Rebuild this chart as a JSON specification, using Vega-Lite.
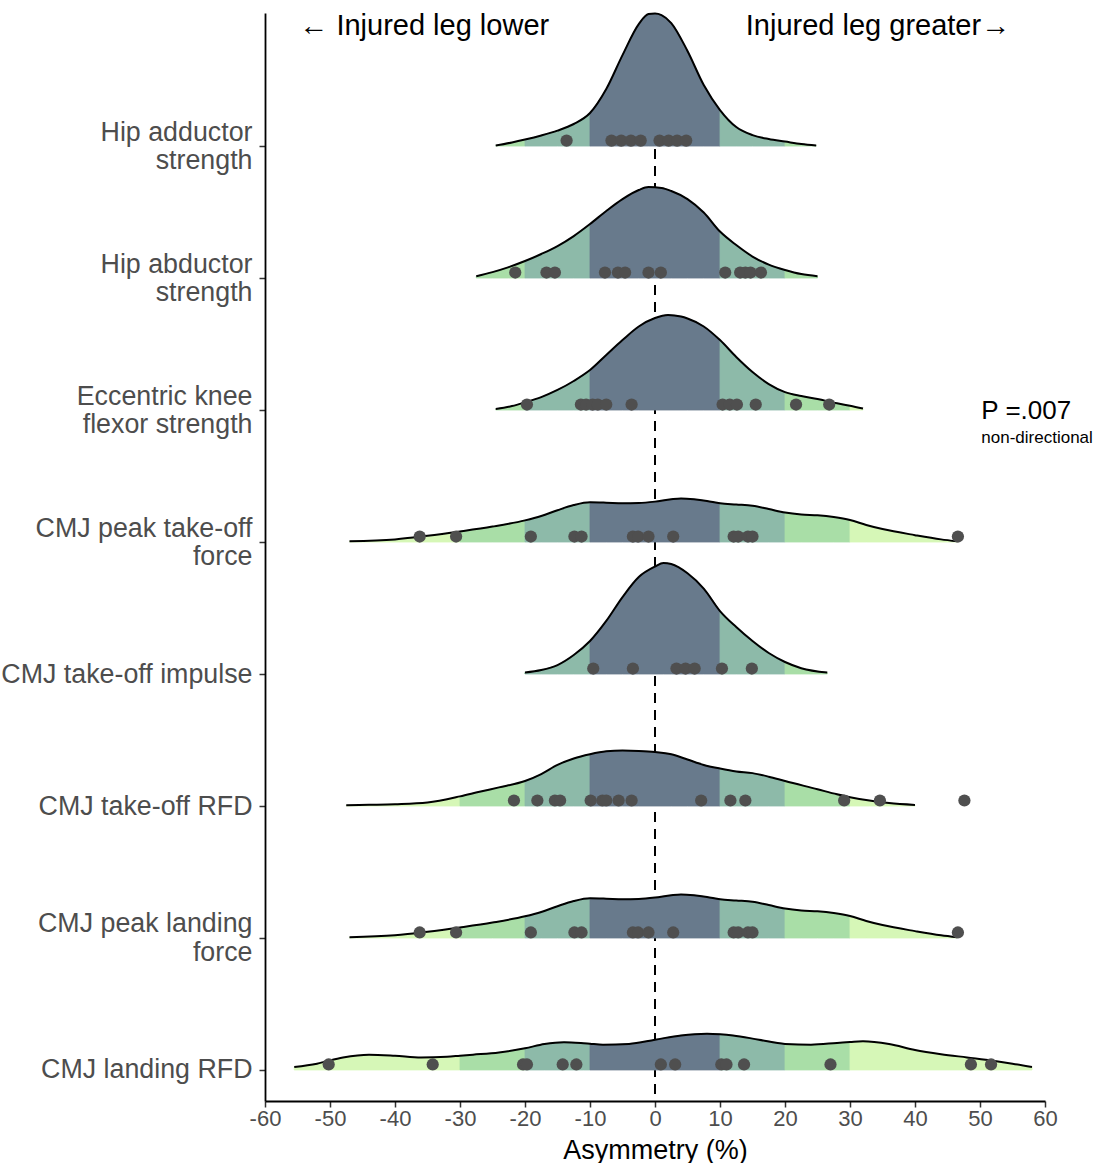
{
  "$schema": "https://vega.github.io/schema/vega-lite/v6.json",
  "width": 780,
  "height": 1088,
  "autosize": {"type": "pad"},
  "padding": {"left": 0, "top": 9, "right": 0, "bottom": 0},
  "background": "white",
  "config": {"view": {"stroke": null}, "font": "Liberation Sans"},
  "datasets": {
    "ridges": [
      {"ridge": "HA", "level": 8}, {"ridge": "HB", "level": 7}, {"ridge": "EK", "level": 6}, {"ridge": "PTF", "level": 5},
      {"ridge": "TOI", "level": 4}, {"ridge": "TRFD", "level": 3}, {"ridge": "PLF", "level": 2}, {"ridge": "LRFD", "level": 1}
    ],
    "curves": [
      {"ridge": "HA", "x": -24.5, "top": 8.004}, {"ridge": "HA", "x": -22, "top": 8.027}, {"ridge": "HA", "x": -20, "top": 8.049},
      {"ridge": "HA", "x": -17.5, "top": 8.080}, {"ridge": "HA", "x": -15, "top": 8.117}, {"ridge": "HA", "x": -12.5, "top": 8.167},
      {"ridge": "HA", "x": -10, "top": 8.250}, {"ridge": "HA", "x": -7.5, "top": 8.432}, {"ridge": "HA", "x": -5, "top": 8.689},
      {"ridge": "HA", "x": -2.5, "top": 8.924}, {"ridge": "HA", "x": -1, "top": 9.000}, {"ridge": "HA", "x": 0, "top": 9.004},
      {"ridge": "HA", "x": 1, "top": 8.992}, {"ridge": "HA", "x": 2.5, "top": 8.932}, {"ridge": "HA", "x": 5, "top": 8.720},
      {"ridge": "HA", "x": 7.5, "top": 8.462}, {"ridge": "HA", "x": 10, "top": 8.273}, {"ridge": "HA", "x": 12.5, "top": 8.144},
      {"ridge": "HA", "x": 15, "top": 8.083}, {"ridge": "HA", "x": 17.5, "top": 8.053}, {"ridge": "HA", "x": 20, "top": 8.034},
      {"ridge": "HA", "x": 22.5, "top": 8.015}, {"ridge": "HA", "x": 24.8, "top": 8.004},

      {"ridge": "HB", "x": -27.5, "top": 7.014}, {"ridge": "HB", "x": -25, "top": 7.045}, {"ridge": "HB", "x": -22.5, "top": 7.083},
      {"ridge": "HB", "x": -20, "top": 7.129}, {"ridge": "HB", "x": -17.5, "top": 7.182}, {"ridge": "HB", "x": -15, "top": 7.242},
      {"ridge": "HB", "x": -12.5, "top": 7.318}, {"ridge": "HB", "x": -10, "top": 7.409}, {"ridge": "HB", "x": -7.5, "top": 7.508},
      {"ridge": "HB", "x": -5, "top": 7.598}, {"ridge": "HB", "x": -2.5, "top": 7.667}, {"ridge": "HB", "x": -1, "top": 7.689},
      {"ridge": "HB", "x": 1, "top": 7.682}, {"ridge": "HB", "x": 2.5, "top": 7.659}, {"ridge": "HB", "x": 5, "top": 7.598},
      {"ridge": "HB", "x": 7.5, "top": 7.496}, {"ridge": "HB", "x": 10, "top": 7.352}, {"ridge": "HB", "x": 12.5, "top": 7.250},
      {"ridge": "HB", "x": 15, "top": 7.163}, {"ridge": "HB", "x": 17.5, "top": 7.102}, {"ridge": "HB", "x": 20, "top": 7.061},
      {"ridge": "HB", "x": 22.5, "top": 7.030}, {"ridge": "HB", "x": 25, "top": 7.014},

      {"ridge": "EK", "x": -24.5, "top": 6.008}, {"ridge": "EK", "x": -22, "top": 6.030}, {"ridge": "EK", "x": -20, "top": 6.058},
      {"ridge": "EK", "x": -17.5, "top": 6.098}, {"ridge": "EK", "x": -15, "top": 6.152}, {"ridge": "EK", "x": -12.5, "top": 6.220},
      {"ridge": "EK", "x": -10, "top": 6.303}, {"ridge": "EK", "x": -7.5, "top": 6.417}, {"ridge": "EK", "x": -5, "top": 6.530},
      {"ridge": "EK", "x": -2.5, "top": 6.633}, {"ridge": "EK", "x": 0, "top": 6.697}, {"ridge": "EK", "x": 2, "top": 6.720},
      {"ridge": "EK", "x": 4, "top": 6.708}, {"ridge": "EK", "x": 5, "top": 6.693}, {"ridge": "EK", "x": 7.5, "top": 6.633},
      {"ridge": "EK", "x": 10, "top": 6.530}, {"ridge": "EK", "x": 12.5, "top": 6.402}, {"ridge": "EK", "x": 15, "top": 6.288},
      {"ridge": "EK", "x": 17.5, "top": 6.197}, {"ridge": "EK", "x": 20, "top": 6.136}, {"ridge": "EK", "x": 22.5, "top": 6.106},
      {"ridge": "EK", "x": 25, "top": 6.083}, {"ridge": "EK", "x": 28, "top": 6.051}, {"ridge": "EK", "x": 30, "top": 6.033},
      {"ridge": "EK", "x": 32, "top": 6.011},

      {"ridge": "PTF", "x": -47, "top": 5.005}, {"ridge": "PTF", "x": -40, "top": 5.020}, {"ridge": "PTF", "x": -35, "top": 5.047},
      {"ridge": "PTF", "x": -30, "top": 5.080}, {"ridge": "PTF", "x": -25, "top": 5.117}, {"ridge": "PTF", "x": -20, "top": 5.164},
      {"ridge": "PTF", "x": -17.5, "top": 5.197}, {"ridge": "PTF", "x": -15, "top": 5.241}, {"ridge": "PTF", "x": -12.5, "top": 5.280},
      {"ridge": "PTF", "x": -10, "top": 5.301}, {"ridge": "PTF", "x": -7.5, "top": 5.298}, {"ridge": "PTF", "x": -5, "top": 5.293},
      {"ridge": "PTF", "x": -2.5, "top": 5.295}, {"ridge": "PTF", "x": 0, "top": 5.306}, {"ridge": "PTF", "x": 2.5, "top": 5.324},
      {"ridge": "PTF", "x": 4, "top": 5.330}, {"ridge": "PTF", "x": 6, "top": 5.324}, {"ridge": "PTF", "x": 8, "top": 5.311},
      {"ridge": "PTF", "x": 10, "top": 5.293}, {"ridge": "PTF", "x": 12.5, "top": 5.284}, {"ridge": "PTF", "x": 15, "top": 5.275},
      {"ridge": "PTF", "x": 17.5, "top": 5.250}, {"ridge": "PTF", "x": 20, "top": 5.223}, {"ridge": "PTF", "x": 22.5, "top": 5.208},
      {"ridge": "PTF", "x": 25, "top": 5.202}, {"ridge": "PTF", "x": 27.5, "top": 5.189}, {"ridge": "PTF", "x": 30, "top": 5.167},
      {"ridge": "PTF", "x": 32.5, "top": 5.129}, {"ridge": "PTF", "x": 35, "top": 5.098}, {"ridge": "PTF", "x": 40, "top": 5.052},
      {"ridge": "PTF", "x": 44, "top": 5.020}, {"ridge": "PTF", "x": 46.5, "top": 5.005},

      {"ridge": "TOI", "x": -20, "top": 4.011}, {"ridge": "TOI", "x": -17.5, "top": 4.030}, {"ridge": "TOI", "x": -15, "top": 4.068},
      {"ridge": "TOI", "x": -12.5, "top": 4.144}, {"ridge": "TOI", "x": -10, "top": 4.250}, {"ridge": "TOI", "x": -7.5, "top": 4.402},
      {"ridge": "TOI", "x": -5, "top": 4.583}, {"ridge": "TOI", "x": -2.5, "top": 4.735}, {"ridge": "TOI", "x": 0, "top": 4.814},
      {"ridge": "TOI", "x": 1.3, "top": 4.841}, {"ridge": "TOI", "x": 2.5, "top": 4.833}, {"ridge": "TOI", "x": 5, "top": 4.763},
      {"ridge": "TOI", "x": 7.5, "top": 4.647}, {"ridge": "TOI", "x": 10, "top": 4.477}, {"ridge": "TOI", "x": 12.5, "top": 4.356},
      {"ridge": "TOI", "x": 15, "top": 4.250}, {"ridge": "TOI", "x": 17.5, "top": 4.159}, {"ridge": "TOI", "x": 20, "top": 4.091},
      {"ridge": "TOI", "x": 22.5, "top": 4.044}, {"ridge": "TOI", "x": 26.5, "top": 4.011},

      {"ridge": "TRFD", "x": -47.5, "top": 3.005}, {"ridge": "TRFD", "x": -44, "top": 3.009}, {"ridge": "TRFD", "x": -40, "top": 3.014},
      {"ridge": "TRFD", "x": -35, "top": 3.027}, {"ridge": "TRFD", "x": -30, "top": 3.073}, {"ridge": "TRFD", "x": -27, "top": 3.108},
      {"ridge": "TRFD", "x": -24, "top": 3.141}, {"ridge": "TRFD", "x": -20, "top": 3.189}, {"ridge": "TRFD", "x": -17.5, "top": 3.242},
      {"ridge": "TRFD", "x": -15, "top": 3.311}, {"ridge": "TRFD", "x": -12.5, "top": 3.360}, {"ridge": "TRFD", "x": -10, "top": 3.392},
      {"ridge": "TRFD", "x": -7.5, "top": 3.414}, {"ridge": "TRFD", "x": -5, "top": 3.420}, {"ridge": "TRFD", "x": -2.5, "top": 3.417},
      {"ridge": "TRFD", "x": 0, "top": 3.409}, {"ridge": "TRFD", "x": 2.5, "top": 3.392}, {"ridge": "TRFD", "x": 5, "top": 3.352},
      {"ridge": "TRFD", "x": 7.5, "top": 3.311}, {"ridge": "TRFD", "x": 10, "top": 3.284}, {"ridge": "TRFD", "x": 12.5, "top": 3.262},
      {"ridge": "TRFD", "x": 15, "top": 3.249}, {"ridge": "TRFD", "x": 17.5, "top": 3.222}, {"ridge": "TRFD", "x": 20, "top": 3.189},
      {"ridge": "TRFD", "x": 25, "top": 3.127}, {"ridge": "TRFD", "x": 28, "top": 3.089}, {"ridge": "TRFD", "x": 30, "top": 3.067},
      {"ridge": "TRFD", "x": 33, "top": 3.041}, {"ridge": "TRFD", "x": 36, "top": 3.022}, {"ridge": "TRFD", "x": 40, "top": 3.008},

      {"ridge": "PLF", "x": -47, "top": 2.005}, {"ridge": "PLF", "x": -40, "top": 2.020}, {"ridge": "PLF", "x": -35, "top": 2.047},
      {"ridge": "PLF", "x": -30, "top": 2.080}, {"ridge": "PLF", "x": -25, "top": 2.117}, {"ridge": "PLF", "x": -20, "top": 2.164},
      {"ridge": "PLF", "x": -17.5, "top": 2.197}, {"ridge": "PLF", "x": -15, "top": 2.241}, {"ridge": "PLF", "x": -12.5, "top": 2.280},
      {"ridge": "PLF", "x": -10, "top": 2.301}, {"ridge": "PLF", "x": -7.5, "top": 2.298}, {"ridge": "PLF", "x": -5, "top": 2.293},
      {"ridge": "PLF", "x": -2.5, "top": 2.295}, {"ridge": "PLF", "x": 0, "top": 2.306}, {"ridge": "PLF", "x": 2.5, "top": 2.324},
      {"ridge": "PLF", "x": 4, "top": 2.330}, {"ridge": "PLF", "x": 6, "top": 2.324}, {"ridge": "PLF", "x": 8, "top": 2.311},
      {"ridge": "PLF", "x": 10, "top": 2.293}, {"ridge": "PLF", "x": 12.5, "top": 2.284}, {"ridge": "PLF", "x": 15, "top": 2.275},
      {"ridge": "PLF", "x": 17.5, "top": 2.250}, {"ridge": "PLF", "x": 20, "top": 2.223}, {"ridge": "PLF", "x": 22.5, "top": 2.208},
      {"ridge": "PLF", "x": 25, "top": 2.202}, {"ridge": "PLF", "x": 27.5, "top": 2.189}, {"ridge": "PLF", "x": 30, "top": 2.167},
      {"ridge": "PLF", "x": 32.5, "top": 2.129}, {"ridge": "PLF", "x": 35, "top": 2.098}, {"ridge": "PLF", "x": 40, "top": 2.052},
      {"ridge": "PLF", "x": 44, "top": 2.020}, {"ridge": "PLF", "x": 46.5, "top": 2.005},

      {"ridge": "LRFD", "x": -55.5, "top": 1.023}, {"ridge": "LRFD", "x": -52, "top": 1.048}, {"ridge": "LRFD", "x": -48, "top": 1.095},
      {"ridge": "LRFD", "x": -44, "top": 1.116}, {"ridge": "LRFD", "x": -40, "top": 1.108}, {"ridge": "LRFD", "x": -36, "top": 1.095},
      {"ridge": "LRFD", "x": -32, "top": 1.100}, {"ridge": "LRFD", "x": -30, "top": 1.108}, {"ridge": "LRFD", "x": -28, "top": 1.116},
      {"ridge": "LRFD", "x": -24, "top": 1.133}, {"ridge": "LRFD", "x": -20, "top": 1.164}, {"ridge": "LRFD", "x": -17, "top": 1.197},
      {"ridge": "LRFD", "x": -14, "top": 1.211}, {"ridge": "LRFD", "x": -11, "top": 1.203}, {"ridge": "LRFD", "x": -10, "top": 1.199},
      {"ridge": "LRFD", "x": -8, "top": 1.192}, {"ridge": "LRFD", "x": -4, "top": 1.197}, {"ridge": "LRFD", "x": 0, "top": 1.229},
      {"ridge": "LRFD", "x": 4, "top": 1.262}, {"ridge": "LRFD", "x": 8, "top": 1.275}, {"ridge": "LRFD", "x": 10, "top": 1.271},
      {"ridge": "LRFD", "x": 12, "top": 1.262}, {"ridge": "LRFD", "x": 16, "top": 1.229}, {"ridge": "LRFD", "x": 20, "top": 1.197},
      {"ridge": "LRFD", "x": 24, "top": 1.192}, {"ridge": "LRFD", "x": 28, "top": 1.205}, {"ridge": "LRFD", "x": 30, "top": 1.212},
      {"ridge": "LRFD", "x": 32, "top": 1.218}, {"ridge": "LRFD", "x": 36, "top": 1.197}, {"ridge": "LRFD", "x": 40, "top": 1.152},
      {"ridge": "LRFD", "x": 44, "top": 1.120}, {"ridge": "LRFD", "x": 48, "top": 1.095}, {"ridge": "LRFD", "x": 52, "top": 1.070},
      {"ridge": "LRFD", "x": 55, "top": 1.048}, {"ridge": "LRFD", "x": 58, "top": 1.023}
    ],
    "dots": [
      {"ridge": "HA", "x": -13.6}, {"ridge": "HA", "x": -6.7}, {"ridge": "HA", "x": -5.2}, {"ridge": "HA", "x": -3.7}, {"ridge": "HA", "x": -2.2},
      {"ridge": "HA", "x": 0.7}, {"ridge": "HA", "x": 2.1}, {"ridge": "HA", "x": 3.4}, {"ridge": "HA", "x": 4.8},
      {"ridge": "HB", "x": -21.5}, {"ridge": "HB", "x": -16.7}, {"ridge": "HB", "x": -15.4}, {"ridge": "HB", "x": -7.7}, {"ridge": "HB", "x": -5.7},
      {"ridge": "HB", "x": -4.6}, {"ridge": "HB", "x": -1.0}, {"ridge": "HB", "x": 0.9}, {"ridge": "HB", "x": 10.8}, {"ridge": "HB", "x": 13.1},
      {"ridge": "HB", "x": 13.9}, {"ridge": "HB", "x": 14.7}, {"ridge": "HB", "x": 16.3},
      {"ridge": "EK", "x": -19.7}, {"ridge": "EK", "x": -11.4}, {"ridge": "EK", "x": -10.6}, {"ridge": "EK", "x": -9.6}, {"ridge": "EK", "x": -8.8},
      {"ridge": "EK", "x": -7.5}, {"ridge": "EK", "x": -3.6}, {"ridge": "EK", "x": 10.4}, {"ridge": "EK", "x": 11.5}, {"ridge": "EK", "x": 12.6},
      {"ridge": "EK", "x": 15.5}, {"ridge": "EK", "x": 21.7}, {"ridge": "EK", "x": 26.8},
      {"ridge": "PTF", "x": -36.2}, {"ridge": "PTF", "x": -30.6}, {"ridge": "PTF", "x": -19.1}, {"ridge": "PTF", "x": -12.4}, {"ridge": "PTF", "x": -11.3},
      {"ridge": "PTF", "x": -3.4}, {"ridge": "PTF", "x": -2.6}, {"ridge": "PTF", "x": -1.0}, {"ridge": "PTF", "x": 2.8}, {"ridge": "PTF", "x": 12.1},
      {"ridge": "PTF", "x": 12.8}, {"ridge": "PTF", "x": 14.3}, {"ridge": "PTF", "x": 15.0}, {"ridge": "PTF", "x": 46.6},
      {"ridge": "TOI", "x": -9.5}, {"ridge": "TOI", "x": -3.4}, {"ridge": "TOI", "x": 3.3}, {"ridge": "TOI", "x": 4.7}, {"ridge": "TOI", "x": 6.1},
      {"ridge": "TOI", "x": 10.3}, {"ridge": "TOI", "x": 14.9},
      {"ridge": "TRFD", "x": -21.7}, {"ridge": "TRFD", "x": -18.1}, {"ridge": "TRFD", "x": -15.4}, {"ridge": "TRFD", "x": -14.6}, {"ridge": "TRFD", "x": -9.9},
      {"ridge": "TRFD", "x": -8.1}, {"ridge": "TRFD", "x": -7.5}, {"ridge": "TRFD", "x": -5.6}, {"ridge": "TRFD", "x": -3.6}, {"ridge": "TRFD", "x": 7.1},
      {"ridge": "TRFD", "x": 11.6}, {"ridge": "TRFD", "x": 13.9}, {"ridge": "TRFD", "x": 29.1}, {"ridge": "TRFD", "x": 34.6}, {"ridge": "TRFD", "x": 47.6},
      {"ridge": "PLF", "x": -36.2}, {"ridge": "PLF", "x": -30.6}, {"ridge": "PLF", "x": -19.1}, {"ridge": "PLF", "x": -12.4}, {"ridge": "PLF", "x": -11.3},
      {"ridge": "PLF", "x": -3.4}, {"ridge": "PLF", "x": -2.6}, {"ridge": "PLF", "x": -1.0}, {"ridge": "PLF", "x": 2.8}, {"ridge": "PLF", "x": 12.1},
      {"ridge": "PLF", "x": 12.8}, {"ridge": "PLF", "x": 14.3}, {"ridge": "PLF", "x": 15.0}, {"ridge": "PLF", "x": 46.6},
      {"ridge": "LRFD", "x": -50.2}, {"ridge": "LRFD", "x": -34.2}, {"ridge": "LRFD", "x": -20.3}, {"ridge": "LRFD", "x": -19.7}, {"ridge": "LRFD", "x": -14.2},
      {"ridge": "LRFD", "x": -12.1}, {"ridge": "LRFD", "x": 0.9}, {"ridge": "LRFD", "x": 3.1}, {"ridge": "LRFD", "x": 10.2}, {"ridge": "LRFD", "x": 11.0},
      {"ridge": "LRFD", "x": 13.7}, {"ridge": "LRFD", "x": 27.0}, {"ridge": "LRFD", "x": 48.6}, {"ridge": "LRFD", "x": 51.7}
    ]
  },
  "layer": [
    {
      "data": {"values": [{}]},
      "mark": {"type": "rule", "strokeDash": [10, 7], "strokeWidth": 2, "color": "black"},
      "encoding": {"x": {"datum": 0, "type": "quantitative", "scale": {"domain": [-60, 60], "nice": false}}}
    },
    {
      "data": {"name": "curves"},
      "transform": [{"filter": "datum.x <= -30"}, {"lookup": "ridge", "from": {"data": {"name": "ridges"}, "key": "ridge", "fields": ["level"]}}],
      "mark": {"type": "area", "interpolate": "monotone", "color": "#d6f7b7", "stroke": "#d6f7b7", "strokeWidth": 0.8},
      "encoding": {
        "x": {"field": "x", "type": "quantitative", "scale": {"domain": [-60, 60], "nice": false}},
        "y": {"field": "top", "type": "quantitative", "scale": {"domain": [0.765, 9.008], "nice": false, "zero": false}},
        "y2": {"field": "level"},
        "detail": {"field": "ridge"}
      }
    },
    {
      "data": {"name": "curves"},
      "transform": [{"filter": "datum.x >= -30 && datum.x <= -20"}, {"lookup": "ridge", "from": {"data": {"name": "ridges"}, "key": "ridge", "fields": ["level"]}}],
      "mark": {"type": "area", "interpolate": "monotone", "color": "#a9dea7", "stroke": "#a9dea7", "strokeWidth": 0.8},
      "encoding": {
        "x": {"field": "x", "type": "quantitative", "scale": {"domain": [-60, 60], "nice": false}},
        "y": {"field": "top", "type": "quantitative", "scale": {"domain": [0.765, 9.008], "nice": false, "zero": false}},
        "y2": {"field": "level"},
        "detail": {"field": "ridge"}
      }
    },
    {
      "data": {"name": "curves"},
      "transform": [{"filter": "datum.x >= -20 && datum.x <= -10"}, {"lookup": "ridge", "from": {"data": {"name": "ridges"}, "key": "ridge", "fields": ["level"]}}],
      "mark": {"type": "area", "interpolate": "monotone", "color": "#8dbaa9", "stroke": "#8dbaa9", "strokeWidth": 0.8},
      "encoding": {
        "x": {"field": "x", "type": "quantitative", "scale": {"domain": [-60, 60], "nice": false}},
        "y": {"field": "top", "type": "quantitative", "scale": {"domain": [0.765, 9.008], "nice": false, "zero": false}},
        "y2": {"field": "level"},
        "detail": {"field": "ridge"}
      }
    },
    {
      "data": {"name": "curves"},
      "transform": [{"filter": "datum.x >= -10 && datum.x <= 10"}, {"lookup": "ridge", "from": {"data": {"name": "ridges"}, "key": "ridge", "fields": ["level"]}}],
      "mark": {"type": "area", "interpolate": "monotone", "color": "#687a8c", "stroke": "#687a8c", "strokeWidth": 0.8},
      "encoding": {
        "x": {"field": "x", "type": "quantitative", "scale": {"domain": [-60, 60], "nice": false}},
        "y": {"field": "top", "type": "quantitative", "scale": {"domain": [0.765, 9.008], "nice": false, "zero": false}},
        "y2": {"field": "level"},
        "detail": {"field": "ridge"}
      }
    },
    {
      "data": {"name": "curves"},
      "transform": [{"filter": "datum.x >= 10 && datum.x <= 20"}, {"lookup": "ridge", "from": {"data": {"name": "ridges"}, "key": "ridge", "fields": ["level"]}}],
      "mark": {"type": "area", "interpolate": "monotone", "color": "#8dbaa9", "stroke": "#8dbaa9", "strokeWidth": 0.8},
      "encoding": {
        "x": {"field": "x", "type": "quantitative", "scale": {"domain": [-60, 60], "nice": false}},
        "y": {"field": "top", "type": "quantitative", "scale": {"domain": [0.765, 9.008], "nice": false, "zero": false}},
        "y2": {"field": "level"},
        "detail": {"field": "ridge"}
      }
    },
    {
      "data": {"name": "curves"},
      "transform": [{"filter": "datum.x >= 20 && datum.x <= 30"}, {"lookup": "ridge", "from": {"data": {"name": "ridges"}, "key": "ridge", "fields": ["level"]}}],
      "mark": {"type": "area", "interpolate": "monotone", "color": "#a9dea7", "stroke": "#a9dea7", "strokeWidth": 0.8},
      "encoding": {
        "x": {"field": "x", "type": "quantitative", "scale": {"domain": [-60, 60], "nice": false}},
        "y": {"field": "top", "type": "quantitative", "scale": {"domain": [0.765, 9.008], "nice": false, "zero": false}},
        "y2": {"field": "level"},
        "detail": {"field": "ridge"}
      }
    },
    {
      "data": {"name": "curves"},
      "transform": [{"filter": "datum.x >= 30"}, {"lookup": "ridge", "from": {"data": {"name": "ridges"}, "key": "ridge", "fields": ["level"]}}],
      "mark": {"type": "area", "interpolate": "monotone", "color": "#d6f7b7", "stroke": "#d6f7b7", "strokeWidth": 0.8},
      "encoding": {
        "x": {"field": "x", "type": "quantitative", "scale": {"domain": [-60, 60], "nice": false}},
        "y": {"field": "top", "type": "quantitative", "scale": {"domain": [0.765, 9.008], "nice": false, "zero": false}},
        "y2": {"field": "level"},
        "detail": {"field": "ridge"}
      }
    },
    {
      "data": {"name": "curves"},
      "mark": {"type": "line", "interpolate": "monotone", "color": "black", "strokeWidth": 2},
      "encoding": {
        "x": {"field": "x", "type": "quantitative", "scale": {"domain": [-60, 60], "nice": false},
          "axis": {"values": [-60, -50, -40, -30, -20, -10, 0, 10, 20, 30, 40, 50, 60], "labelExpr": "'' + datum.value",
            "labelFontSize": 22, "labelColor": "#4d4d4d", "labelFlush": false, "labelOverlap": false, "labelPadding": 1,
            "tickSize": 6, "tickColor": "#333333", "tickWidth": 1.5, "domainColor": "black", "domainWidth": 1.8, "grid": false,
            "title": "Asymmetry (%)", "titleFontSize": 27, "titleFontWeight": "normal", "titleColor": "black", "titlePadding": 8}},
        "y": {"field": "top", "type": "quantitative", "scale": {"domain": [0.765, 9.008], "nice": false, "zero": false},
          "axis": {"values": [1, 2, 3, 4, 5, 6, 7, 8],
            "labelExpr": "datum.value == 8 ? ['Hip adductor', 'strength'] : datum.value == 7 ? ['Hip abductor', 'strength'] : datum.value == 6 ? ['Eccentric knee', 'flexor strength'] : datum.value == 5 ? ['CMJ peak take-off', 'force'] : datum.value == 4 ? 'CMJ take-off impulse' : datum.value == 3 ? 'CMJ take-off RFD' : datum.value == 2 ? ['CMJ peak landing', 'force'] : 'CMJ landing RFD'",
            "labelFontSize": 26.8, "labelColor": "#4d4d4d", "labelLimit": 400, "labelLineHeight": 28.5, "labelFlush": false, "labelOverlap": false,
            "labelAlign": "right", "labelBaseline": "middle", "labelPadding": 7,
            "labelOffset": {"condition": {"test": "datum.value >= 5 || datum.value == 2", "value": -14}, "value": 0},
            "tickSize": 6, "tickColor": "#333333", "tickWidth": 1.5, "domainColor": "black", "domainWidth": 1.8, "grid": false, "title": ""}},
        "detail": {"field": "ridge"}
      }
    },
    {
      "data": {"name": "dots"},
      "transform": [{"lookup": "ridge", "from": {"data": {"name": "ridges"}, "key": "ridge", "fields": ["level"]}}],
      "mark": {"type": "circle", "size": 150, "color": "#4f4f4f", "opacity": 1, "yOffset": -5.5},
      "encoding": {
        "x": {"field": "x", "type": "quantitative", "scale": {"domain": [-60, 60], "nice": false}},
        "y": {"field": "level", "type": "quantitative", "scale": {"domain": [0.765, 9.008], "nice": false, "zero": false}}
      }
    },
    {
      "data": {"values": [{}]},
      "mark": {"type": "text", "fontSize": 29, "color": "black", "align": "center", "baseline": "middle"},
      "encoding": {
        "x": {"datum": -35.5, "type": "quantitative", "scale": {"domain": [-60, 60], "nice": false}},
        "y": {"datum": 8.91, "type": "quantitative", "scale": {"domain": [0.765, 9.008], "nice": false, "zero": false}},
        "text": {"value": "← Injured leg lower"}
      }
    },
    {
      "data": {"values": [{}]},
      "mark": {"type": "text", "fontSize": 29, "color": "black", "align": "center", "baseline": "middle"},
      "encoding": {
        "x": {"datum": 34.3, "type": "quantitative", "scale": {"domain": [-60, 60], "nice": false}},
        "y": {"datum": 8.91, "type": "quantitative", "scale": {"domain": [0.765, 9.008], "nice": false, "zero": false}},
        "text": {"value": "Injured leg greater→"}
      }
    },
    {
      "data": {"values": [{}]},
      "mark": {"type": "text", "fontSize": 26, "color": "black", "align": "left", "baseline": "middle"},
      "encoding": {
        "x": {"datum": 50.2, "type": "quantitative", "scale": {"domain": [-60, 60], "nice": false}},
        "y": {"datum": 5.99, "type": "quantitative", "scale": {"domain": [0.765, 9.008], "nice": false, "zero": false}},
        "text": {"value": "P =.007"}
      }
    },
    {
      "data": {"values": [{}]},
      "mark": {"type": "text", "fontSize": 17, "color": "black", "align": "left", "baseline": "middle"},
      "encoding": {
        "x": {"datum": 50.2, "type": "quantitative", "scale": {"domain": [-60, 60], "nice": false}},
        "y": {"datum": 5.79, "type": "quantitative", "scale": {"domain": [0.765, 9.008], "nice": false, "zero": false}},
        "text": {"value": "non-directional"}
      }
    }
  ]
}
